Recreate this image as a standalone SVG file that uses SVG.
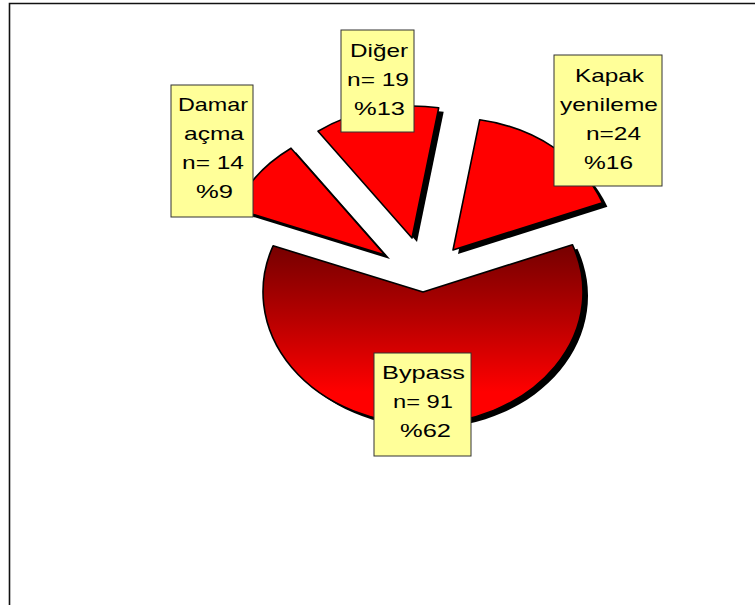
<svg xmlns="http://www.w3.org/2000/svg" width="755" height="605" viewBox="0 0 755 605">
<defs>
<linearGradient id="gBypass" gradientUnits="userSpaceOnUse" x1="0" y1="248" x2="0" y2="392">
<stop offset="0" stop-color="#780000"/>
<stop offset="0.5" stop-color="#b80000"/>
<stop offset="1" stop-color="#ff0000"/>
</linearGradient>
<style>
.shadow{fill:#000;}
.slice{fill:#ff0000;stroke:#000;stroke-width:1.6;stroke-linejoin:round;}
.box{fill:#ffff99;stroke:#333;stroke-width:1;}
.lbl{font-family:"Liberation Sans",Arial,sans-serif;font-size:18.5px;fill:#000;}
</style>
</defs>
<rect width="755" height="605" fill="#fff"/>
<path d="M9.5,605 V3.5 H755" fill="none" stroke="#111" stroke-width="1.6"/>

<g id="damar">
<path class="shadow" d="M390,259 L296,152.2 A160,132 0 0 0 240.1,212.8 Z"/>
<path class="slice" d="M385,255 L291,148.2 A160,132 0 0 0 235.1,208.8 Z"/>
<rect class="box" x="171" y="85" width="82" height="132"/>
<text class="lbl" x="178" y="111" textLength="70" lengthAdjust="spacingAndGlyphs">Damar</text>
<text class="lbl" x="184" y="140" textLength="60" lengthAdjust="spacingAndGlyphs">açma</text>
<text class="lbl" x="182" y="169" textLength="62" lengthAdjust="spacingAndGlyphs">n= 14</text>
<text class="lbl" x="196" y="198" textLength="37" lengthAdjust="spacingAndGlyphs">%9</text>
</g>

<g id="diger">
<path class="shadow" d="M417,242 L323,135.2 A160,132 0 0 1 443.7,111.8 Z"/>
<path class="slice" d="M412,238 L318,131.2 A160,132 0 0 1 438.7,107.8 Z"/>
<rect class="box" x="341" y="30" width="73" height="102"/>
<text class="lbl" x="350" y="57" textLength="58" lengthAdjust="spacingAndGlyphs">Diğer</text>
<text class="lbl" x="347" y="86" textLength="62" lengthAdjust="spacingAndGlyphs">n= 19</text>
<text class="lbl" x="354" y="115" textLength="51" lengthAdjust="spacingAndGlyphs">%13</text>
</g>

<g id="kapak">
<path class="shadow" d="M458,254 L484.7,123.8 A160,132 0 0 1 607.4,206.7 Z"/>
<path class="slice" d="M453,250 L479.7,119.8 A160,132 0 0 1 602.4,202.7 Z"/>
<rect class="box" x="554" y="55" width="108" height="131"/>
<text class="lbl" x="575" y="82" textLength="69" lengthAdjust="spacingAndGlyphs">Kapak</text>
<text class="lbl" x="560" y="111" textLength="98" lengthAdjust="spacingAndGlyphs">yenileme</text>
<text class="lbl" x="586" y="140" textLength="55" lengthAdjust="spacingAndGlyphs">n=24</text>
<text class="lbl" x="584" y="169" textLength="49" lengthAdjust="spacingAndGlyphs">%16</text>
</g>

<g id="bypass">
<path class="shadow" d="M428,296 L577.4,248.7 A160,132 0 1 1 278.1,249.8 Z"/>
<path class="slice" style="fill:url(#gBypass)" d="M423,292 L572.4,244.7 A160,132 0 1 1 273.1,245.8 Z"/>
<rect class="box" x="374" y="353" width="97" height="103"/>
<text class="lbl" x="382" y="379" textLength="83" lengthAdjust="spacingAndGlyphs">Bypass</text>
<text class="lbl" x="393" y="408" textLength="60" lengthAdjust="spacingAndGlyphs">n= 91</text>
<text class="lbl" x="400" y="437" textLength="51" lengthAdjust="spacingAndGlyphs">%62</text>
</g>
</svg>
